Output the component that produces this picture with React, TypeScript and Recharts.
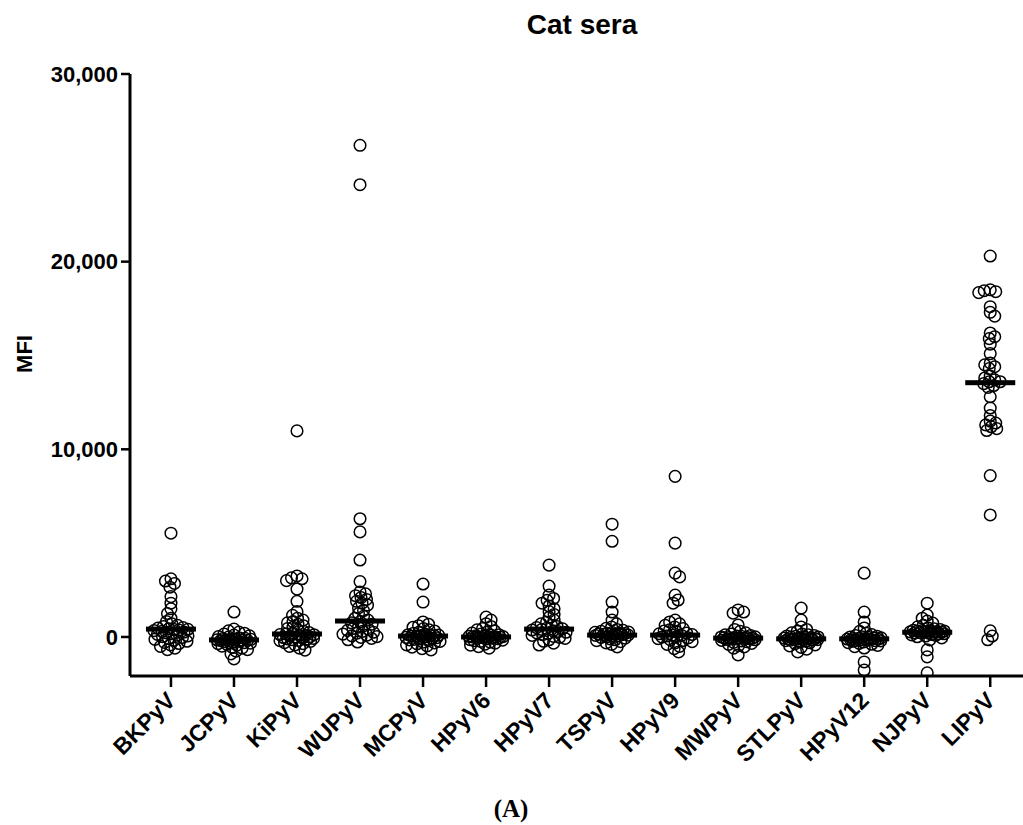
import React from 'react';
import { ScatterChart, Scatter, XAxis, YAxis } from 'recharts';

const CATEGORIES = ['BKPyV', 'JCPyV', 'KiPyV', 'WUPyV', 'MCPyV', 'HPyV6', 'HPyV7', 'TSPyV', 'HPyV9', 'MWPyV', 'STLPyV', 'HPyV12', 'NJPyV', 'LIPyV'];

const BKPyV = [5530, 3100, 2980, 2850, 2650, 2150, 1800, 1500, 1250, 1000, 820, 700, 620, 560, 500, 470, 440, 410, 390, 370, 340, 300, 260, 220, 180, 140, 100, 60, 20, -30, -80, -130, -180, -230, -290, -350, -420, -500, -600, -680];
const JCPyV = [1330, 420, 330, 260, 200, 150, 100, 60, 20, -10, -40, -70, -90, -110, -130, -140, -150, -160, -170, -180, -190, -210, -230, -250, -270, -300, -330, -360, -400, -440, -490, -540, -600, -680, -760, -900, -1170];
const KiPyV = [10980, 3250, 3150, 3100, 3000, 2550, 1900, 1350, 1150, 1000, 900, 820, 750, 680, 600, 520, 450, 380, 300, 240, 190, 160, 130, 120, 90, 70, 50, 10, 0, -30, -50, -80, -100, -130, -150, -180, -200, -240, -300, -360, -420, -500, -600, -700];
const WUPyV = [26200, 24100, 6300, 5600, 4100, 2950, 2400, 2300, 2200, 2100, 2000, 1900, 1800, 1700, 1550, 1400, 1250, 1100, 1000, 900, 820, 750, 680, 600, 520, 450, 400, 350, 300, 250, 200, 150, 100, 60, 20, -20, -80, -150, -270];
const MCPyV = [2820, 1860, 800, 680, 600, 520, 450, 380, 320, 260, 200, 160, 120, 100, 90, 70, 60, 50, 40, 20, 0, -20, -40, -70, -100, -130, -160, -200, -240, -280, -320, -370, -420, -480, -540, -620, -690];
const HPyV6 = [1060, 900, 700, 560, 450, 380, 320, 260, 210, 160, 120, 90, 60, 40, 30, 20, 10, 0, -5, -10, -20, -30, -50, -70, -90, -110, -140, -170, -200, -240, -280, -330, -380, -440, -520, -600];
const HPyV7 = [3830, 2710, 2230, 2050, 1950, 1800, 1650, 1500, 1350, 1200, 1050, 900, 780, 700, 620, 560, 500, 460, 430, 400, 370, 330, 290, 250, 200, 160, 120, 80, 30, -20, -80, -150, -230, -330, -430];
const TSPyV = [6010, 5100, 1860, 1330, 900, 700, 530, 460, 400, 350, 300, 260, 250, 230, 200, 190, 180, 160, 150, 140, 130, 120, 100, 80, 70, 40, 10, -20, -60, -100, -150, -200, -250, -320, -400, -530];
const HPyV9 = [8560, 5000, 3400, 3200, 2230, 1970, 1800, 900, 800, 700, 620, 530, 450, 380, 320, 260, 210, 170, 130, 100, 80, 50, 20, -10, -50, -90, -140, -190, -250, -320, -400, -500, -620, -800];
const MWPyV = [1440, 1330, 1270, 640, 400, 300, 220, 160, 110, 70, 40, 20, 10, 0, -20, -30, -40, -50, -60, -70, -80, -90, -100, -120, -130, -150, -180, -210, -250, -290, -340, -400, -460, -530, -600, -960];
const STLPyV = [1540, 900, 530, 400, 300, 220, 160, 110, 70, 50, 30, 0, -10, -20, -40, -50, -60, -80, -90, -100, -110, -120, -130, -140, -150, -170, -200, -230, -270, -310, -360, -420, -480, -560, -650, -800];
const HPyV12 = [3400, 1330, 800, 480, 300, 200, 130, 80, 40, 10, 0, -20, -50, -60, -80, -90, -100, -110, -120, -130, -140, -150, -170, -180, -200, -210, -230, -260, -300, -340, -390, -450, -520, -590, -1330, -1760];
const NJPyV = [1800, 1170, 1000, 850, 740, 620, 540, 480, 430, 390, 350, 330, 320, 310, 300, 290, 280, 270, 260, 250, 240, 230, 220, 200, 180, 170, 140, 110, 80, 50, 10, -50, -160, -690, -1060, -1910];
const LIPyV = [20300, 18500, 18450, 18400, 18350, 17600, 17300, 17100, 16200, 16000, 15900, 15600, 15100, 14600, 14500, 14400, 14300, 13900, 13800, 13700, 13600, 13600, 13500, 13400, 13300, 12800, 12200, 11800, 11500, 11400, 11300, 11200, 11100, 11000, 8600, 6500, 330, 50, -150];

const SERIES = [BKPyV, JCPyV, KiPyV, WUPyV, MCPyV, HPyV6, HPyV7, TSPyV, HPyV9, MWPyV, STLPyV, HPyV12, NJPyV, LIPyV];
const MEDIANS = [420, -160, 160, 850, 50, 0, 420, 100, 100, -60, -100, -100, 250, 13550];

const Y_TICKS = [0, 10000, 20000, 30000];
const X_TICKS = CATEGORIES.map((_, i) => i + 1);

// layout
const W = 1023;
const H = 825;
const PLOT_LEFT = 130;
const PLOT_TOP = 74;
const PLOT_BOTTOM = 676;
const X_DOMAIN: [number, number] = [0.35, 14.52];
const Y_DOMAIN: [number, number] = [-2080, 30000];
const PX_X = (W - PLOT_LEFT) / (X_DOMAIN[1] - X_DOMAIN[0]);
const PX_Y = (PLOT_BOTTOM - PLOT_TOP) / (Y_DOMAIN[1] - Y_DOMAIN[0]);
const MIN_DIST = 5.6;
const MAX_OFF = 17;
const FONT = 'Liberation Sans, Arial, Helvetica, sans-serif';

function swarmOffsets(values: number[]): number[] {
  const order = values.map((_, i) => i).sort((a, b) => values[b] - values[a]);
  const placed: { x: number; y: number }[] = [];
  const out = new Array(values.length).fill(0);
  order.forEach((idx, k) => {
    const y = values[idx] * PX_Y;
    let best = 0;
    let bestScore = -Infinity;
    for (let s = 0; s <= MAX_OFF; s += 0.5) {
      const cands = s === 0 ? [0] : k % 2 ? [s, -s] : [-s, s];
      let found = false;
      for (const c of cands) {
        let md = Infinity;
        for (const p of placed) {
          const d = Math.hypot(p.x - c, p.y - y);
          if (d < md) md = d;
        }
        if (md >= MIN_DIST) {
          best = c;
          found = true;
          break;
        }
        if (md > bestScore) {
          bestScore = md;
          best = c;
        }
      }
      if (found) break;
    }
    placed.push({ x: best, y });
    out[idx] = best;
  });
  return out;
}

const points = SERIES.flatMap((vals, ci) => {
  const offs = swarmOffsets(vals);
  return vals.map((v, i) => ({ x: ci + 1 + offs[i] / PX_X, y: v }));
});

const medianPoints = MEDIANS.map((m, i) => ({ x: i + 1, y: m }));

const fmt = (v: number) => v.toLocaleString('en-US');

const XTick = (props: any) => {
  const { x, y, payload } = props;
  const label = CATEGORIES[Math.round(payload.value) - 1] ?? '';
  return (
    <g transform={`translate(${x},${y})`}>
      <text
        transform="translate(6,13) rotate(-45)"
        textAnchor="end"
        fontFamily={FONT}
        fontWeight="bold"
        fontSize={23}
        fill="#000"
      >
        {label}
      </text>
    </g>
  );
};

const Circle = (props: any) => (
  <circle cx={props.cx} cy={props.cy} r={5.8} fill="none" stroke="#000" strokeWidth={1.5} />
);

const MedianBar = (props: any) => (
  <rect x={props.cx - 25} y={props.cy - 2.5} width={50} height={5} fill="#000" />
);

export default function App() {
  return (
    <div style={{ position: 'absolute', left: 0, top: 0, width: W, height: H, background: '#fff' }}>
      <ScatterChart width={W} height={H} margin={{ top: PLOT_TOP, right: 0, left: 0, bottom: 0 }}>
        <XAxis
          type="number"
          dataKey="x"
          domain={X_DOMAIN}
          ticks={X_TICKS}
          interval={0}
          allowDataOverflow
          height={H - PLOT_BOTTOM}
          tick={<XTick />}
          tickSize={11}
          axisLine={{ stroke: '#000', strokeWidth: 3 }}
          tickLine={{ stroke: '#000', strokeWidth: 2.5 }}
        />
        <YAxis
          type="number"
          dataKey="y"
          domain={Y_DOMAIN}
          ticks={Y_TICKS}
          interval={0}
          allowDataOverflow
          width={PLOT_LEFT}
          tickFormatter={fmt}
          tickSize={9}
          tickMargin={3}
          tick={{ fill: '#000', fontSize: 22, fontWeight: 'bold', fontFamily: FONT }}
          axisLine={{ stroke: '#000', strokeWidth: 3 }}
          tickLine={{ stroke: '#000', strokeWidth: 2.5 }}
        />
        <Scatter data={points} shape={<Circle />} isAnimationActive={false} />
        <Scatter data={medianPoints} shape={<MedianBar />} isAnimationActive={false} />
      </ScatterChart>
      <svg
        width={W}
        height={H}
        style={{ position: 'absolute', left: 0, top: 0, pointerEvents: 'none' }}
      >
        <text x={582} y={34} textAnchor="middle" fontFamily={FONT} fontWeight="bold" fontSize={28} fill="#000">
          Cat sera
        </text>
        <text
          transform="translate(32,354) rotate(-90)"
          textAnchor="middle"
          fontFamily={FONT}
          fontWeight="bold"
          fontSize={22}
          fill="#000"
        >
          MFI
        </text>
        <text
          x={511}
          y={817}
          textAnchor="middle"
          fontFamily="Liberation Serif, 'Times New Roman', serif"
          fontWeight="bold"
          fontSize={25}
          fill="#000"
        >
          (A)
        </text>
      </svg>
    </div>
  );
}
